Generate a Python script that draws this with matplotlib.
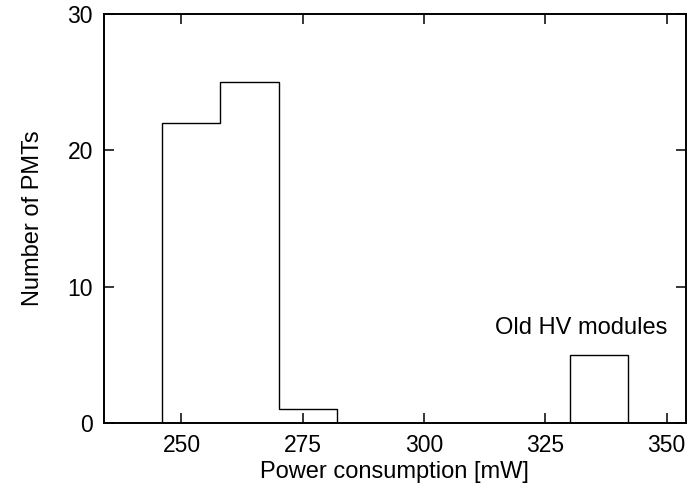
import numpy as np
import matplotlib
matplotlib.use("Agg")
import matplotlib.pyplot as plt

plt.rcParams['font.family'] = ['Liberation Sans', 'DejaVu Sans']

# bin edges (mW) and counts
bin_edges = [246, 258, 270, 282, 294, 306, 318, 330, 342]
counts = [22, 25, 1, 0, 0, 0, 0, 5]

x_ticks = [250, 275, 300, 325, 350]
y_ticks = [0, 10, 20, 30]

fig = plt.figure(figsize=(6.88, 4.97), dpi=100)
ax = fig.add_axes([0.151, 0.149, 0.846, 0.823])

# step outline of the histogram
ax.stairs(counts, bin_edges, fill=False, color='black', lw=1.0, baseline=0)

ax.text(332.4, 7, "Old HV modules", fontsize=17, ha='center', va='center')

ax.set_xlim(234, 354)
ax.set_ylim(0, 30)
ax.set_xticks(x_ticks)
ax.set_yticks(y_ticks)
ax.tick_params(direction='in', length=7, width=1.1, labelsize=16.5,
               top=True, right=True, pad=8)
for s in ax.spines.values():
    s.set_linewidth(1.4)
    s.set_zorder(3)

ax.set_xlabel("Power consumption [mW]", fontsize=17, labelpad=3)
ax.set_ylabel("Number of PMTs", fontsize=17, labelpad=17)

fig.savefig("out.png", dpi=100)
